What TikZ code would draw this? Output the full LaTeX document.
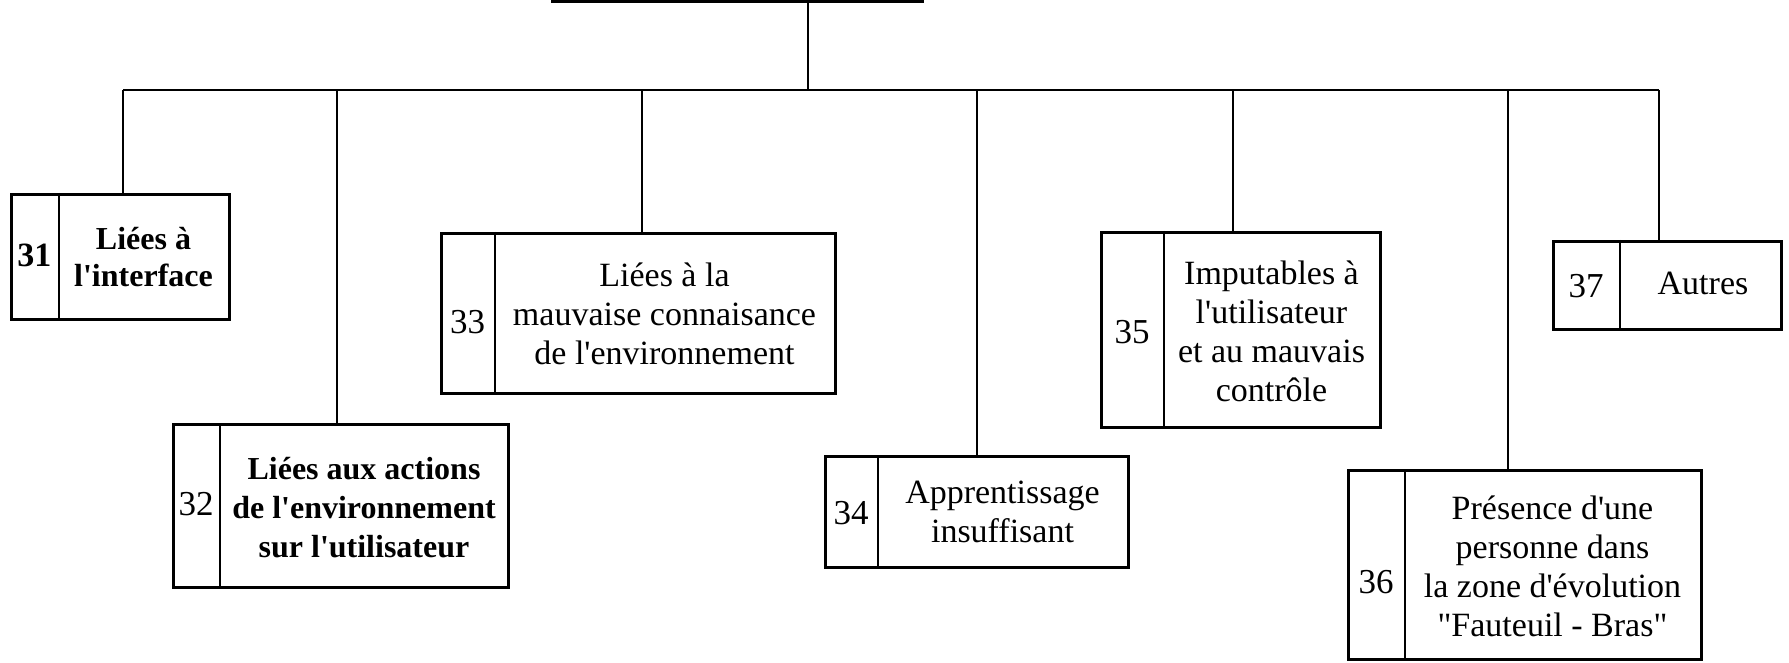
\documentclass[tikz,border=0pt]{standalone}
\usepackage{fontspec}
\setmainfont{Liberation Serif}
\newcommand{\ap}{\textquotesingle}
\newcommand{\dq}{\textquotedbl}
\begin{document}
\begin{tikzpicture}[x=0.5pt,y=-0.5pt,
  frame/.style={draw, line width=1.3pt, rectangle, inner sep=0pt, anchor=north west},
  divline/.style={line width=1pt},
  conn/.style={line width=1pt},
  txt/.style={align=center, inner sep=0pt, font=\fontsize{17}{19.5}\selectfont},
  boldtxt/.style={align=center, inner sep=0pt, font=\fontsize{16}{19.5}\selectfont\bfseries},
  num/.style={inner sep=0pt, font=\fontsize{17.5}{20}\selectfont}]
\useasboundingbox (0,0) rectangle (1789,663);

% parent stub and trunk
\coordinate (pl) at (551,1.5);
\coordinate (pr) at (924,1.5);
\coordinate (parent) at (808,1.5);
\coordinate (bus) at (808,90);
\draw[line width=1.3pt] (pl) -- (pr);
\draw[conn] (parent) -- (bus);

% boxes
\node[frame, minimum width=109pt, minimum height=62.5pt] (b31) at (10,193) {};
\draw[divline] (59,193) -- (59,318);
\node[num, font=\fontsize{17}{20}\selectfont\bfseries] (n31) at (34.5,255.5) {31};
\node[boldtxt, font=\fontsize{16}{18.5}\selectfont\bfseries] (t31) at (143.5,257) {Liées à\\l\ap interface};

\node[frame, minimum width=167.5pt, minimum height=81.5pt] (b32) at (172,423) {};
\draw[divline] (220,423) -- (220,586);
\node[num] (n32) at (196,504.5) {32};
\node[boldtxt] (t32) at (364,508) {Liées aux actions\\de l\ap environnement\\sur l\ap utilisateur};

\node[frame, minimum width=197pt, minimum height=80pt] (b33) at (440,232) {};
\draw[divline] (495,232) -- (495,392);
\node[num] (n33) at (467.5,322) {33};
\node[txt] (t33) at (664.5,314) {Liées à la\\mauvaise connaisance\\de l\ap environnement};

\node[frame, minimum width=151.5pt, minimum height=55.5pt] (b34) at (824,455) {};
\draw[divline] (878,455) -- (878,566);
\node[num] (n34) at (851,513) {34};
\node[txt] (t34) at (1002.5,512) {Apprentissage\\insuffisant};

\node[frame, minimum width=139.5pt, minimum height=97.5pt] (b35) at (1100,231) {};
\draw[divline] (1164,231) -- (1164,426);
\node[num] (n35) at (1132,332) {35};
\node[txt] (t35) at (1271.5,331) {Imputables à\\l\ap utilisateur\\et au mauvais\\contrôle};

\node[frame, minimum width=176.5pt, minimum height=94.5pt] (b36) at (1347,469) {};
\draw[divline] (1405,469) -- (1405,658);
\node[num] (n36) at (1376,582) {36};
\node[txt] (t36) at (1552.5,566) {Présence d\ap une\\personne dans\\la zone d\ap évolution\\\dq Fauteuil - Bras\dq};

\node[frame, minimum width=114pt, minimum height=44pt] (b37) at (1552,240) {};
\draw[divline] (1620,240) -- (1620,328);
\node[num] (n37) at (1586,286) {37};
\node[txt] (t37) at (1703,283) {Autres};

% bus and drops
\draw[conn] ([xshift=1.5pt]b31.north |- bus) -- ([xshift=-4pt]b37.north |- bus);
\draw[conn] ([xshift=1.5pt]b31.north) -- ([xshift=1.5pt]b31.north |- bus);
\draw[conn] ([xshift=-1.75pt]b32.north) -- ([xshift=-1.75pt]b32.north |- bus);
\draw[conn] ([xshift=2pt]b33.north) -- ([xshift=2pt]b33.north |- bus);
\draw[conn] (b34.north) -- (b34.north |- bus);
\draw[conn] ([xshift=-3.75pt]b35.north) -- ([xshift=-3.75pt]b35.north |- bus);
\draw[conn] ([xshift=-8.25pt]b36.north) -- ([xshift=-8.25pt]b36.north |- bus);
\draw[conn] ([xshift=-4pt]b37.north) -- ([xshift=-4pt]b37.north |- bus);
\end{tikzpicture}
\end{document}
